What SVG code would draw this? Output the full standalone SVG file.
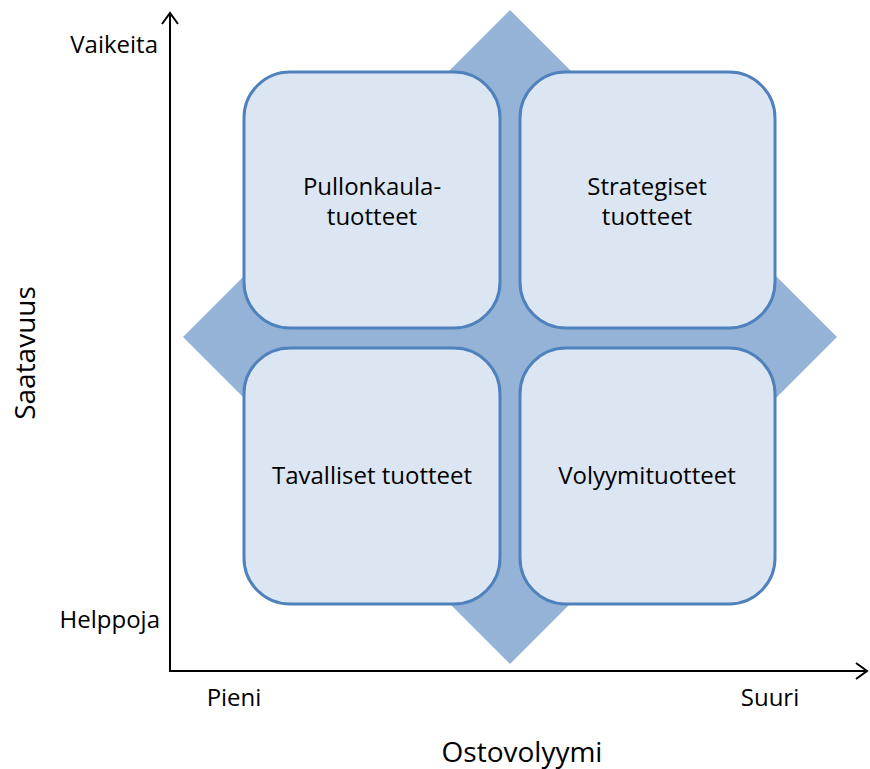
<svg xmlns="http://www.w3.org/2000/svg" width="870" height="769" viewBox="0 0 870 769">
<style>
text{font-family:"Open Sans","Liberation Sans",sans-serif;fill:#000}
.lbl{font-size:24px}
.box rect{fill:#dce6f2;stroke:#4f81bd;stroke-width:3}
.box text{font-size:24px;text-anchor:middle}
.axis{stroke:#000;stroke-width:2;fill:none}
</style>
<rect width="870" height="769" fill="#fff"/>
<g id="diamond"><polygon points="510,10 837,337 510,664 183,337" fill="#95b3d7"/></g>
<g id="box-pullonkaula" class="box"><rect x="244" y="72" width="256" height="256" rx="46" ry="46"/><text x="372" y="195">Pullonkaula-</text><text x="372" y="225">tuotteet</text></g>
<g id="box-strategiset" class="box"><rect x="520" y="72" width="255" height="256" rx="46" ry="46"/><text x="647" y="195">Strategiset</text><text x="647" y="225">tuotteet</text></g>
<g id="box-tavalliset" class="box"><rect x="244" y="348" width="256" height="256" rx="46" ry="46"/><text x="372" y="484">Tavalliset tuotteet</text></g>
<g id="box-volyymi" class="box"><rect x="520" y="348" width="255" height="256" rx="46" ry="46"/><text x="647" y="484">Volyymituotteet</text></g>
<g id="connectors">
<path class="axis" d="M170,671 V13 M162,24 L170,13 L178,24"/>
<path class="axis" d="M169,671 H867 M856,663 L867,671 L856,679"/>
</g>
<g id="labels">
<text class="lbl" x="158" y="53" text-anchor="end">Vaikeita</text>
<text class="lbl" x="160" y="628" text-anchor="end">Helppoja</text>
<text class="lbl" x="234" y="706" text-anchor="middle">Pieni</text>
<text class="lbl" x="770" y="706" text-anchor="middle">Suuri</text>
<text x="522" y="762" text-anchor="middle" font-size="28">Ostovolyymi</text>
<text x="0" y="0" text-anchor="middle" font-size="28" transform="translate(35,353) rotate(-90)">Saatavuus</text>
</g>
</svg>
